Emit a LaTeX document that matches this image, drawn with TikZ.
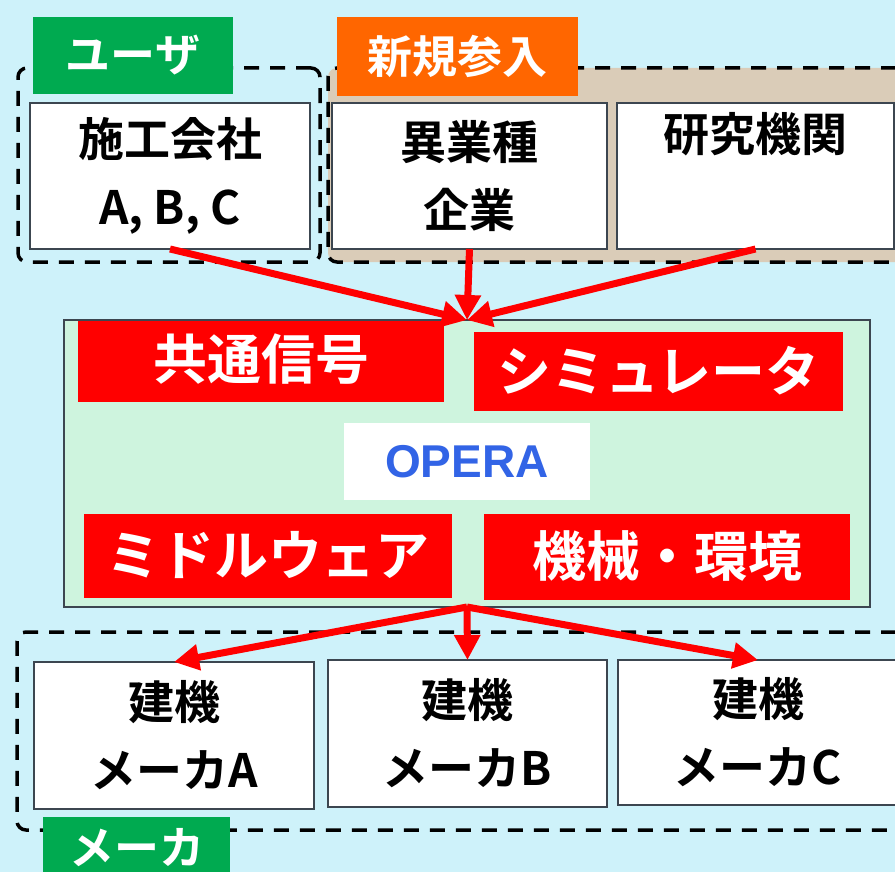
\documentclass[tikz,border=0pt]{standalone}
\usepackage{fontspec}
\setmainfont{Noto Sans CJK JP}[BoldFont={Noto Sans CJK JP Bold}]
\newfontfamily\latinsans{Liberation Sans}
\usetikzlibrary{arrows.meta}

\definecolor{skybg}{RGB}{206,242,250}
\definecolor{mintbg}{RGB}{206,244,222}
\definecolor{tanbg}{RGB}{218,204,184}
\definecolor{usergreen}{RGB}{0,170,80}
\definecolor{neworange}{RGB}{255,102,0}
\definecolor{operablue}{RGB}{50,100,230}
\definecolor{boxline}{RGB}{60,70,80}

\begin{document}
\begin{tikzpicture}[x=1pt, y=-1pt,
  % Node Styles
  orgbox/.style={rectangle, draw=boxline, line width=2pt, fill=white, align=center, outer sep=0pt, inner sep=0pt, font=\fontsize{46}{68}\selectfont\bfseries},
  tagbox/.style={rectangle, text=white, outer sep=0pt, inner sep=0pt, font=\fontsize{45}{50}\selectfont\bfseries},
  redbox/.style={rectangle, fill=red, text=white, outer sep=0pt, inner sep=0pt, font=\fontsize{54}{60}\selectfont\bfseries},
  grpbox/.style={rectangle, draw=black, line width=3.5pt, dash pattern=on 15pt off 11pt, rounded corners=9pt, outer sep=0pt, inner sep=0pt},
  % Arrow Styles
  redarrow/.style={-{Triangle[length=25pt, width=25pt]}, line width=7pt, red}
]
\useasboundingbox (0,0) rectangle (895,872);
\fill[skybg] (0,0) rectangle (895,872);

% Groups
\node[grpbox, minimum width=302pt, minimum height=194pt] (usergrp) at (169,165) {};
\node[grpbox, fill=tanbg, minimum width=577pt, minimum height=194pt] (newgrp) at (616.5,165) {};
\node[grpbox, minimum width=888pt, minimum height=198pt] (makergrp) at (461,731) {};

% Tags
\node[tagbox, fill=usergreen, minimum width=200pt, minimum height=77pt] (usertag) at (133,55.5) {ユーザ};
\node[tagbox, fill=neworange, minimum width=241pt, minimum height=79pt] (newtag) at (457.5,56.5) {新規参入};
\node[tagbox, fill=usergreen, minimum width=187pt, minimum height=66pt, text depth=8pt] (makertag) at (136.5,850) {メーカ};

% Upper organisations
\node[orgbox, minimum width=280pt, minimum height=146pt] (sekou) at (170,176) {施工会社\\A, B, C};
\node[orgbox, minimum width=275pt, minimum height=146pt] (igyou) at (469.5,176) {異業種\\企業};
\node[orgbox, minimum width=277pt, minimum height=146pt] (kenkyu) at (755.5,176) {研究機関\\\strut};

% OPERA
\node[rectangle, draw=boxline, line width=2pt, fill=mintbg, outer sep=0pt, minimum width=806pt, minimum height=287pt] (opera) at (467,463.5) {};
\node[redbox, minimum width=366pt, minimum height=81pt, text depth=10pt] (kyoutsu) at (261,361.5) {共通信号};
\node[redbox, minimum width=369pt, minimum height=79pt, text depth=6pt] (simu) at (658.5,371.5) {シミュレータ};
\node[rectangle, fill=white, minimum width=246pt, minimum height=77pt, text=operablue, font=\latinsans\fontsize{46}{50}\selectfont\bfseries] (operalbl) at (467,461.5) {OPERA};
\node[redbox, minimum width=368pt, minimum height=84pt, text depth=6pt] (middle) at (268,556) {ミドルウェア};
\node[redbox, minimum width=366pt, minimum height=86pt, text depth=6pt] (kikai) at (667,557) {機械・環境};

% Makers
\node[orgbox, minimum width=280pt, minimum height=147pt] (makerA) at (174,735.5) {建機\\メーカA};
\node[orgbox, minimum width=279pt, minimum height=147pt] (makerB) at (467.5,733.5) {建機\\メーカB};
\node[orgbox, minimum width=280pt, minimum height=145pt] (makerC) at (758,732.5) {建機\\メーカC};

% Arrows
\draw[redarrow] (sekou.south) -- (opera.north);
\draw[redarrow] (igyou.south) -- (opera.north);
\draw[redarrow] (kenkyu.south) -- (opera.north);
\draw[redarrow] (opera.south) -- (makerA.north);
\draw[redarrow] (opera.south) -- (makerB.north);
\draw[redarrow] (opera.south) -- (makerC.north);

\end{tikzpicture}
\end{document}
